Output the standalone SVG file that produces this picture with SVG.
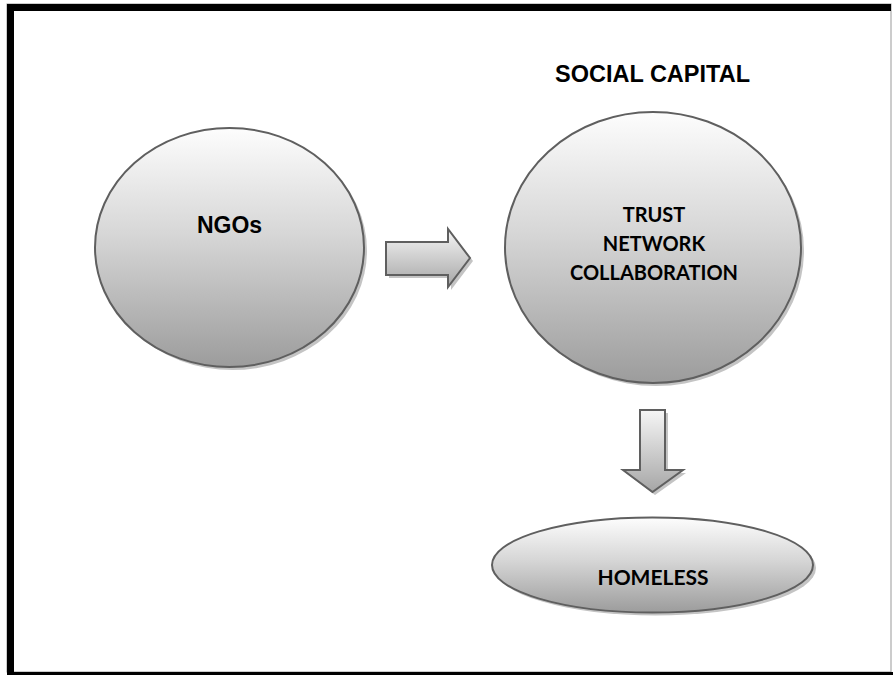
<svg xmlns="http://www.w3.org/2000/svg" width="893" height="675" viewBox="0 0 893 675">
<defs>
<linearGradient id="g" x1="0" y1="0" x2="0" y2="1">
<stop offset="0" stop-color="#fdfdfd"/>
<stop offset="0.45" stop-color="#d6d6d6"/>
<stop offset="1" stop-color="#9c9c9c"/>
</linearGradient>
<linearGradient id="ga" x1="0" y1="0" x2="0" y2="1">
<stop offset="0" stop-color="#f6f6f6"/>
<stop offset="1" stop-color="#a6a6a6"/>
</linearGradient>
</defs>
<style>
.shape{fill:url(#g);stroke:#5f5f5f;stroke-width:2}
.arrow{fill:url(#ga);stroke:#5f5f5f;stroke-width:2;stroke-linejoin:miter}
.shadow{fill:#c4c4c4;stroke:none}
.t1{font-family:"Liberation Sans",Arial,sans-serif;font-weight:bold;fill:#000;text-anchor:middle}
.t2{font-family:Lato,"Open Sans",sans-serif;font-weight:bold;fill:#000;text-anchor:middle}
</style>
<rect x="0" y="0" width="893" height="675" fill="#fff"/>
<g id="frame">
<rect x="7" y="4" width="884" height="668" fill="none" stroke="#999" stroke-width="1"/>
<rect x="7" y="4" width="884" height="7" fill="#000"/>
<rect x="7" y="4" width="7" height="671" fill="#000"/>
<rect x="7" y="672" width="886" height="3" fill="#000"/>
</g>
<g id="ngos">
<ellipse class="shadow" cx="232.5" cy="250.5" rx="134.5" ry="119.5"/>
<ellipse class="shape" cx="229.5" cy="247.5" rx="134.5" ry="119.5"/>
<text class="t1" x="229.5" y="233" font-size="23">NGOs</text>
</g>
<g id="social-capital">
<text class="t1" x="652.5" y="82" font-size="23.5">SOCIAL CAPITAL</text>
<ellipse class="shadow" cx="656" cy="250.5" rx="148" ry="135.5"/>
<ellipse class="shape" cx="653" cy="247.5" rx="148" ry="135.5"/>
<text class="t2" x="654" y="222" font-size="20">TRUST</text>
<text class="t2" x="654" y="251" font-size="20">NETWORK</text>
<text class="t2" x="654" y="280" font-size="20">COLLABORATION</text>
</g>
<g id="homeless">
<ellipse class="shadow" cx="655.5" cy="568" rx="160.5" ry="47.5"/>
<ellipse class="shape" cx="652.5" cy="565" rx="160.5" ry="47.5"/>
<text class="t2" x="653" y="585" font-size="21">HOMELESS</text>
</g>
<g id="connectors">
<polygon class="shadow" points="389,245 451,245 451,232 473,261 451,290 451,278 389,278"/>
<polygon class="arrow" points="386,242 448,242 448,229 470,258 448,287 448,275 386,275"/>
<polygon class="shadow" points="643,413 668,413 668,473 686,473 655,495 626,473 643,473"/>
<polygon class="arrow" points="640,410 665,410 665,470 683,470 652.5,492 623,470 640,470"/>
</g>
</svg>
